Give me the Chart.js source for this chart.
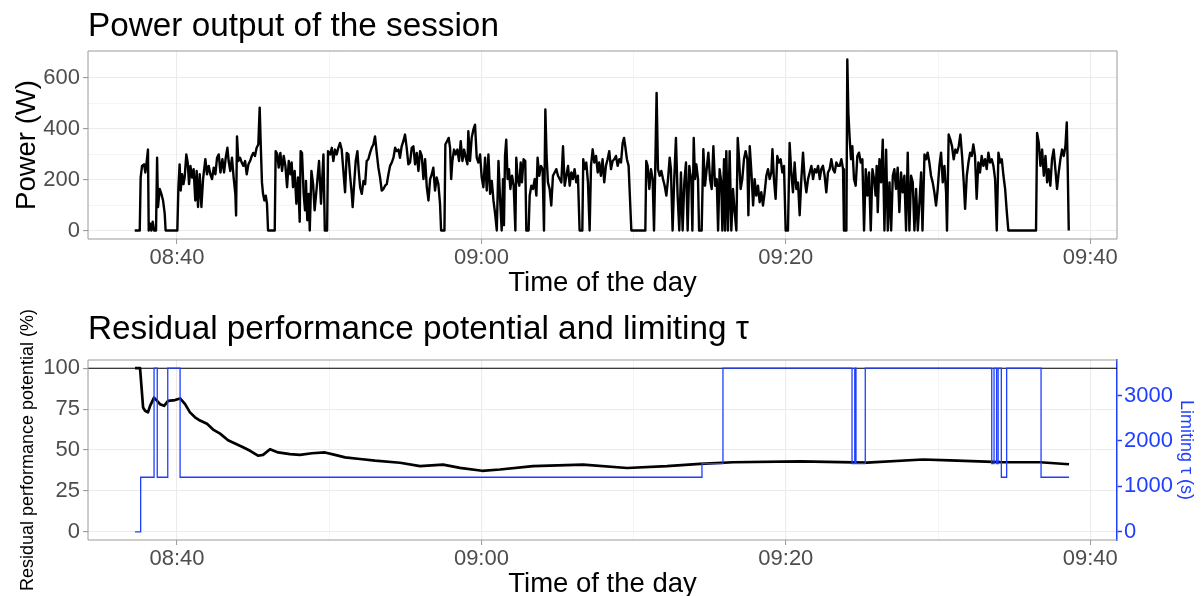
<!DOCTYPE html>
<html>
<head>
<meta charset="utf-8">
<script src="https://cdn.jsdelivr.net/npm/chart.js@4.4.1/dist/chart.umd.min.js"></script>
<style>
  html, body { margin: 0; padding: 0; background: #fff; overflow: hidden; }
  #wrap { position: relative; width: 1203px; height: 596px; }
  canvas { position: absolute; left: 0; }
  #powerChart { top: 0; }
  #residualChart { top: 296px; }
</style>
</head>
<body>
<div id="wrap">
  <canvas id="powerChart" width="1203" height="310"></canvas>
  <canvas id="residualChart" width="1203" height="310"></canvas>
</div>
<script>
// Time is in minutes after 08:00
const xGridMinutes = [40, 50, 60, 70, 80, 90, 100];
const xLabelMinutes = [40, 60, 80, 100];

// Power output (W)
const powerTime = [
  37.22, 37.55, 37.61, 37.70, 37.83, 37.92, 38.01, 38.09, 38.14, 38.23, 38.31, 38.40, 38.49, 38.62, 38.69, 38.75,
  38.86, 38.97, 39.08, 39.19, 39.25, 40.02, 40.09, 40.17, 40.24, 40.33, 40.42, 40.50, 40.61, 40.70, 40.79, 40.88,
  40.99, 41.09, 41.20, 41.29, 41.38, 41.49, 41.60, 41.71, 41.86, 41.97, 42.08, 42.19, 42.30, 42.41, 42.52, 42.63,
  42.74, 42.85, 42.98, 43.09, 43.20, 43.31, 43.39, 43.50, 43.61, 43.72, 43.83, 43.88, 43.94, 44.03, 44.14, 44.25,
  44.36, 44.47, 44.58, 44.69, 44.80, 44.91, 45.01, 45.12, 45.23, 45.34, 45.43, 45.50, 45.58, 45.65, 45.74, 45.83,
  45.91, 45.98, 46.42, 46.48, 46.59, 46.68, 46.79, 46.90, 47.01, 47.12, 47.23, 47.34, 47.45, 47.53, 47.62, 47.73,
  47.84, 47.95, 48.06, 48.12, 48.21, 48.32, 48.41, 48.47, 48.56, 48.65, 48.72, 48.83, 48.94, 49.04,
  49.18, 49.33, 49.46, 49.62, 49.71, 49.86, 49.92, 50.06, 50.17, 50.27, 50.38, 50.49, 50.60, 50.71, 50.82, 50.93,
  51.04, 51.15, 51.26, 51.37, 51.48, 51.54, 51.65, 51.74, 51.85, 51.94, 52.03, 52.14, 52.25, 52.36, 52.46, 52.57,
  52.68, 52.79, 52.90, 53.01, 53.12, 53.23, 53.34, 53.45, 53.56, 53.67, 53.78, 53.89, 54.00, 54.11, 54.22, 54.33,
  54.44, 54.55, 54.65, 54.76, 54.87, 54.98, 55.09, 55.20, 55.31, 55.42, 55.53, 55.64, 55.75, 55.86, 55.97, 56.08,
  56.19, 56.30, 56.41, 56.52, 56.63, 56.74, 56.84, 56.95, 57.06, 57.17, 57.28, 57.35, 57.57, 57.63, 57.74, 57.85,
  57.94, 58.01, 58.09, 58.20, 58.31, 58.42, 58.53, 58.64, 58.75, 58.86, 58.97, 59.08, 59.14, 59.25, 59.36, 59.47,
  59.58, 59.69, 59.80, 59.91, 60.02, 60.13, 60.24, 60.35, 60.46, 60.57, 60.68, 60.79, 60.90, 61.01, 61.12, 61.22,
  61.33,
  61.42, 61.48, 61.55, 61.63, 61.72, 61.81, 61.90, 62.01, 62.12, 62.23, 62.29, 62.38, 62.49, 62.58, 62.66, 62.77,
  62.88, 62.95, 63.10, 63.17, 63.28, 63.39, 63.50, 63.61, 63.69, 63.80, 63.91, 64.02, 64.11, 64.20, 64.28, 64.37,
  64.48, 64.59, 64.70, 64.81, 64.92, 65.03, 65.14, 65.25, 65.36, 65.47, 65.58, 65.69, 65.80, 65.91, 66.01, 66.12,
  66.23, 66.34, 66.45, 66.63, 66.69, 66.78, 66.89, 67.00, 67.11, 67.20, 67.31, 67.42, 67.53, 67.64, 67.74, 67.85,
  67.96, 68.07, 68.18, 68.29, 68.40, 68.51, 68.62, 68.73, 68.84, 68.95, 69.06, 69.17, 69.28, 69.37, 69.45, 69.56,
  69.67, 69.78, 69.85, 70.77, 70.83, 70.92, 71.03, 71.14, 71.25, 71.34, 71.42, 71.51, 71.60, 71.71, 71.82, 71.93,
  72.04, 72.15, 72.26, 72.37, 72.45, 72.56, 72.67, 72.78, 72.89, 73.00, 73.11, 73.22, 73.33, 73.44, 73.55, 73.66,
  73.71, 73.79, 73.86, 73.95, 74.03, 74.12, 74.23, 74.30, 74.47, 74.58, 74.69, 74.80, 74.91, 75.02, 75.13, 75.24,
  75.35, 75.46, 75.55, 75.65, 75.76, 75.83, 75.94, 76.01, 76.09, 76.20, 76.31, 76.42, 76.53, 76.64, 76.75, 76.84,
  76.93, 77.03, 77.14, 77.25, 77.36, 77.47, 77.54, 77.63, 77.74, 77.85, 77.95, 78.06, 78.17, 78.28, 78.39, 78.50,
  78.61, 78.72, 78.83, 78.94, 79.05, 79.12, 79.22, 79.33, 79.44, 79.55, 79.66, 79.77, 79.88, 79.99, 80.14, 80.25,
  80.36, 80.47, 80.58, 80.69, 80.80, 80.91, 81.02, 81.13, 81.24, 81.35, 81.46, 81.57, 81.68, 81.79, 81.90, 82.01,
  82.12, 82.23, 82.33, 82.44, 82.55, 82.66, 82.77, 82.88, 82.99, 83.10, 83.21, 83.32, 83.43, 83.54, 83.65, 83.76,
  83.82, 83.98, 84.04, 84.11, 84.20, 84.28, 84.37, 84.48, 84.59, 84.70, 84.81, 84.92, 85.03, 85.14, 85.25, 85.36,
  85.47, 85.58, 85.69, 85.80, 85.90,
  85.97, 86.04, 86.15, 86.26, 86.37, 86.48, 86.59, 86.70, 86.81, 86.92, 87.03, 87.13, 87.24, 87.35, 87.46, 87.57,
  87.68, 87.79, 87.90, 88.01, 88.12, 88.23, 88.34, 88.45, 88.56, 88.67, 88.78, 88.89, 88.98, 89.11, 89.22, 89.32,
  89.43, 89.54, 89.65, 89.76, 89.87, 89.98, 90.09, 90.20, 90.31, 90.42, 90.53, 90.59, 90.70, 90.81, 90.92, 91.03,
  91.14, 91.25, 91.36, 91.47, 91.58, 91.69, 91.78, 91.89, 92.00, 92.11, 92.22, 92.32, 92.43, 92.54, 92.65, 92.76,
  92.87, 92.98, 93.09, 93.20, 93.31, 93.42, 93.53, 93.64, 93.75, 93.86, 93.97, 94.08, 94.19, 94.30, 94.41, 94.52,
  94.62, 96.44, 96.51, 96.62, 96.73, 96.84, 96.95, 97.06, 97.17, 97.27, 97.38, 97.49, 97.60, 97.71, 97.82, 97.93,
  98.04, 98.15, 98.26, 98.37, 98.46, 98.52, 98.59
];
const powerWatts = [
  0, 0, 208, 254, 260, 228, 273, 318, 0, 27, 0, 34, 0, 0, 286, 92,
  163, 144, 118, 66, 0, 0, 170, 260, 157, 221, 182, 208, 299, 267, 182, 254,
  208, 241, 118, 234, 92, 221, 92, 202, 280, 221, 254, 221, 202, 247, 221, 286,
  299, 228, 280, 228, 286, 325, 273, 234, 286, 208, 144, 59, 370, 273, 286, 267,
  254, 273, 221, 260, 273, 293, 305, 293, 325, 338, 483, 338, 189, 144, 118, 137,
  105, 0, 0, 312, 299, 247, 305, 234, 293, 254, 170, 273, 221, 267, 170, 234,
  105, 208, 34, 312, 305, 144, 79, 195, 40, 144, 0, 234, 182, 79,
  170, 273, 105, 299, 0, 0, 312, 299, 325, 273, 318, 299, 325, 344, 318, 234,
  150, 305, 299, 215, 144, 92, 195, 273, 312, 234, 170, 144, 195, 182, 273, 280,
  305, 325, 338, 370, 305, 247, 208, 157, 163, 176, 182, 221, 254, 267, 286, 325,
  312, 318, 286, 331, 351, 377, 325, 260, 267, 325, 331, 260, 305, 234, 312, 293,
  202, 280, 170, 118, 202, 221, 247, 157, 208, 182, 105, 0, 0, 338, 351, 364,
  325, 202, 273, 318, 299, 318, 273, 351, 273, 318, 286, 260, 390, 273, 364, 396,
  416, 286, 267, 299, 208, 170, 286, 157, 299, 144, 195, 118, 66, 0, 273, 131,
  0,
  202, 21, 293, 357, 202, 241, 163, 215, 176, 0, 286, 202, 176, 267, 189, 280,
  273, 0, 0, 137, 176, 163, 202, 137, 286, 215, 254, 241, 0, 476, 293, 189,
  163, 98, 215, 228, 241, 215, 202, 189, 331, 176, 215, 254, 176, 228, 202, 241,
  189, 215, 0, 0, 280, 241, 267, 189, 0, 254, 319, 267, 293, 228, 267, 215,
  280, 189, 254, 280, 312, 241, 273, 280, 293, 254, 280, 267, 344, 364, 331, 280,
  254, 98, 0, 0, 273, 254, 163, 241, 202, 0, 241, 541, 241, 215, 234, 202,
  176, 137, 202, 286, 241, 0, 202, 364, 137, 0, 228, 0, 189, 267, 0, 254,
  228, 202, 0, 364, 202, 260, 202, 0, 0, 319, 176, 241, 306, 202, 163, 331,
  176, 202, 0, 241, 189, 0, 280, 0, 312, 0, 312, 0, 163, 72, 0, 364,
  280, 163, 202, 280, 312, 280, 60, 331, 228, 98, 202, 137, 176, 111, 150, 98,
  150, 215, 241, 202, 228, 319, 202, 124, 293, 267, 280, 228, 254, 0, 0, 344,
  228, 150, 267, 163, 189, 60, 202, 306, 202, 150, 202, 228, 254, 202, 241, 228,
  254, 202, 241, 254, 215, 150, 228, 241, 280, 241, 228, 267, 254, 254, 280, 241,
  0, 0, 672, 461, 357, 280, 331, 202, 176, 293, 306, 267, 280, 0, 241, 137,
  228, 0, 241, 202, 137,
  254, 72, 280, 189, 357, 0, 318, 0, 189, 0, 215, 241, 163, 247, 72, 228,
  150, 215, 0, 306, 0, 215, 189, 0, 163, 0, 111, 228, 0, 299, 280, 306,
  267, 215, 189, 150, 98, 163, 254, 306, 189, 254, 150, 0, 377, 357, 331, 280,
  318, 306, 331, 377, 293, 189, 85, 215, 267, 306, 293, 338, 293, 124, 267, 228,
  293, 254, 280, 241, 306, 267, 280, 254, 202, 0, 306, 267, 280, 215, 163, 72,
  0, 0, 383, 344, 254, 318, 215, 293, 189, 241, 176, 280, 318, 241, 163, 228,
  280, 318, 293, 331, 425, 254, 0
];
const powerTicks = [0, 100, 200, 300, 400, 500, 600];
const powerLabels = [0, 200, 400, 600];

// Residual performance potential (%)
const residualTime = [
  37.24, 37.57, 37.77, 37.90, 38.09, 38.23, 38.49, 38.69, 38.88, 39.15, 39.41, 39.87, 40.20, 40.53, 40.85, 41.18,
  41.51, 41.97, 42.37, 42.83, 43.35, 43.81, 44.27, 44.80, 45.32, 45.65, 46.11, 46.64, 47.42, 48.08, 48.87, 49.72,
  50.38, 51.04, 52.02, 53.01, 54.65, 55.97, 57.48, 58.59, 60.04, 61.22, 63.39, 66.68, 69.57, 72.19, 74.36, 76.53,
  80.93, 85.33, 89.01, 90.79, 94.07, 96.70, 98.61
];
const residualPct = [
  100, 100, 76, 74, 73, 77, 82, 80, 78, 77, 80, 80.5, 81.5, 78, 73, 70,
  68, 66, 62.5, 60, 56, 54, 52, 49.5, 46.5, 47, 50.5, 48.5, 47.5, 47, 48, 48.5,
  47, 45.5, 44.5, 43.5, 42.2, 40.1, 41.1, 39.1, 37.3, 38.1, 40.1, 41.1, 39, 40.1, 41.5, 42.5,
  43.1, 42.3, 44.2, 43.7, 42.6, 42.5, 41.3
];
const residualTicks = [0, 12.5, 25, 37.5, 50, 62.5, 75, 87.5, 100];
const residualLabels = [0, 25, 50, 75, 100];
const referenceLine = 100;

// Limiting tau (s), each value holds until the next time
const tauTime = [37.24, 37.61, 38.49, 38.70, 39.39, 40.20, 74.49, 75.87, 84.35, 84.53, 84.61, 85.22, 93.53, 93.68, 93.85, 93.95, 94.16, 94.51, 96.77, 98.61];
const tauSec = [0, 1200, 3600, 1200, 3600, 1200, 1500, 3600, 1500, 3600, 1500, 3600, 1500, 3600, 1500, 3600, 1200, 3600, 1200, 1200];
const tauTicks = [0, 1000, 2000, 3000];

const FONT = '"Liberation Sans", Arial, sans-serif';
const BLUE = '#1f3fff';
const X_MIN = 34.15, X_MAX = 101.76;

function clockLabel(v) {
  if (!xLabelMinutes.includes(v)) return '';
  const h = 8 + Math.floor(v / 60);
  const m = v % 60;
  return String(h).padStart(2, '0') + ':' + String(m).padStart(2, '0');
}

function toPoints(xs, ys) {
  return xs.map((x, i) => ({ x, y: ys[i] }));
}

// panel title, left aligned to the plot area
const panelTitle = {
  id: 'panelTitle',
  afterDraw(chart, args, opts) {
    const ctx = chart.ctx;
    ctx.save();
    ctx.font = '33.3px ' + FONT;
    ctx.fillStyle = '#000';
    ctx.textBaseline = 'alphabetic';
    ctx.fillText(opts.text, chart.chartArea.left, opts.baseline);
    ctx.restore();
  }
};

// grey frame around the plot area
const panelBorder = {
  id: 'panelBorder',
  afterDatasetsDraw(chart, args, opts) {
    const { left, right, top, bottom } = chart.chartArea;
    const ctx = chart.ctx;
    ctx.save();
    ctx.strokeStyle = '#9a9a9a';
    ctx.lineWidth = 1;
    ctx.beginPath();
    ctx.moveTo(right, top);
    ctx.lineTo(left, top);
    ctx.lineTo(left, bottom);
    ctx.lineTo(right, bottom);
    if (!opts.openRight) ctx.lineTo(right, top);
    ctx.stroke();
    ctx.restore();
  }
};

// horizontal reference line at 100 %
const refLine = {
  id: 'refLine',
  beforeDatasetsDraw(chart, args, opts) {
    if (opts.value == null) return;
    const y = chart.scales.y.getPixelForValue(opts.value);
    const { left, right } = chart.chartArea;
    const ctx = chart.ctx;
    ctx.save();
    ctx.strokeStyle = '#000';
    ctx.lineWidth = 1.1;
    ctx.beginPath();
    ctx.moveTo(left, y);
    ctx.lineTo(right, y);
    ctx.stroke();
    ctx.restore();
  }
};

function timeAxis(titlePadBottom, height) {
  return {
    type: 'linear',
    min: X_MIN,
    max: X_MAX,
    afterFit: s => { s.height = height; },
    afterBuildTicks: s => { s.ticks = xGridMinutes.map(v => ({ value: v })); },
    border: { display: false },
    grid: {
      color: '#ebebeb',
      lineWidth: c => xLabelMinutes.includes(c.tick.value) ? 1.1 : 0.55,
      tickLength: 5,
      tickColor: c => xLabelMinutes.includes(c.tick.value) ? '#9a9a9a' : 'rgba(0,0,0,0)',
      tickWidth: 1
    },
    ticks: {
      autoSkip: false,
      maxRotation: 0,
      padding: 1,
      color: '#4d4d4d',
      font: { family: FONT, size: 22 },
      callback: v => clockLabel(v)
    },
    title: {
      display: true,
      text: 'Time of the day',
      color: '#000',
      font: { family: FONT, size: 27.5 },
      padding: { top: 0, bottom: titlePadBottom }
    }
  };
}

new Chart(document.getElementById('powerChart'), {
  type: 'line',
  data: {
    datasets: [{
      data: toPoints(powerTime, powerWatts),
      borderColor: '#000',
      borderWidth: 2.4,
      borderJoinStyle: 'round',
      pointRadius: 0,
      tension: 0
    }]
  },
  options: {
    responsive: false,
    animation: false,
    events: [],
    layout: { padding: { top: 51, right: 86, left: 0, bottom: 0 } },
    plugins: {
      legend: { display: false },
      tooltip: { enabled: false },
      panelTitle: { text: 'Power output of the session', baseline: 36 },
      panelBorder: { openRight: false }
    },
    scales: {
      x: timeAxis(10.5, 71),
      y: {
        min: -33.6,
        max: 705.6,
        afterFit: s => { s.width = 88; },
        afterBuildTicks: s => { s.ticks = powerTicks.map(v => ({ value: v })); },
        border: { display: false },
        grid: {
          color: '#ebebeb',
          lineWidth: c => powerLabels.includes(c.tick.value) ? 1.1 : 0.55,
          tickLength: 5,
          tickColor: c => powerLabels.includes(c.tick.value) ? '#9a9a9a' : 'rgba(0,0,0,0)'
        },
        ticks: {
          padding: 3,
          color: '#4d4d4d',
          font: { family: FONT, size: 22 },
          callback: v => powerLabels.includes(v) ? String(v) : ''
        },
        title: {
          display: true,
          text: 'Power (W)',
          color: '#000',
          font: { family: FONT, size: 27.5 },
          padding: { top: 10.5, bottom: 0 }
        }
      }
    }
  },
  plugins: [panelTitle, panelBorder]
});

new Chart(document.getElementById('residualChart'), {
  type: 'line',
  data: {
    datasets: [
      {
        label: 'Limiting tau',
        data: toPoints(tauTime, tauSec),
        yAxisID: 'y2',
        order: 0,
        stepped: 'before',
        borderColor: BLUE,
        borderWidth: 1.3,
        pointRadius: 0
      },
      {
        label: 'Residual performance potential',
        data: toPoints(residualTime, residualPct),
        yAxisID: 'y',
        order: 1,
        borderColor: '#000',
        borderWidth: 2.7,
        borderJoinStyle: 'round',
        pointRadius: 0,
        tension: 0
      }
    ]
  },
  options: {
    responsive: false,
    animation: false,
    events: [],
    layout: { padding: { top: 64, right: 0, left: 0, bottom: 0 } },
    plugins: {
      legend: { display: false },
      tooltip: { enabled: false },
      panelTitle: { text: 'Residual performance potential and limiting τ', baseline: 43 },
      panelBorder: { openRight: true },
      refLine: { value: referenceLine }
    },
    scales: {
      x: timeAxis(5.5, 66),
      y: {
        position: 'left',
        min: -5,
        max: 105,
        afterFit: s => { s.width = 88; },
        afterBuildTicks: s => { s.ticks = residualTicks.map(v => ({ value: v })); },
        border: { display: false },
        grid: {
          color: '#ebebeb',
          lineWidth: c => residualLabels.includes(c.tick.value) ? 1.1 : 0.55,
          tickLength: 5,
          tickColor: c => residualLabels.includes(c.tick.value) ? '#9a9a9a' : 'rgba(0,0,0,0)'
        },
        ticks: {
          padding: 3,
          color: '#4d4d4d',
          font: { family: FONT, size: 22 },
          callback: v => residualLabels.includes(v) ? String(v) : ''
        },
        title: {
          display: true,
          text: 'Residual performance potential (%)',
          color: '#000',
          font: { family: FONT, size: 18 },
          padding: { top: 17, bottom: 0 }
        }
      },
      y2: {
        position: 'right',
        min: -180,
        max: 3780,
        afterFit: s => { s.width = 86; },
        afterBuildTicks: s => { s.ticks = tauTicks.map(v => ({ value: v })); },
        border: { display: true, color: BLUE, width: 1.5 },
        grid: {
          drawOnChartArea: false,
          tickLength: 5,
          tickColor: BLUE,
          tickWidth: 1.5
        },
        ticks: {
          padding: 2,
          color: BLUE,
          font: { family: FONT, size: 22 },
          callback: v => String(v)
        },
        title: {
          display: true,
          text: 'Limiting τ (s)',
          color: BLUE,
          font: { family: FONT, size: 18 },
          padding: { top: 6, bottom: 0 }
        }
      }
    }
  },
  plugins: [panelTitle, panelBorder, refLine]
});
</script>
</body>
</html>
